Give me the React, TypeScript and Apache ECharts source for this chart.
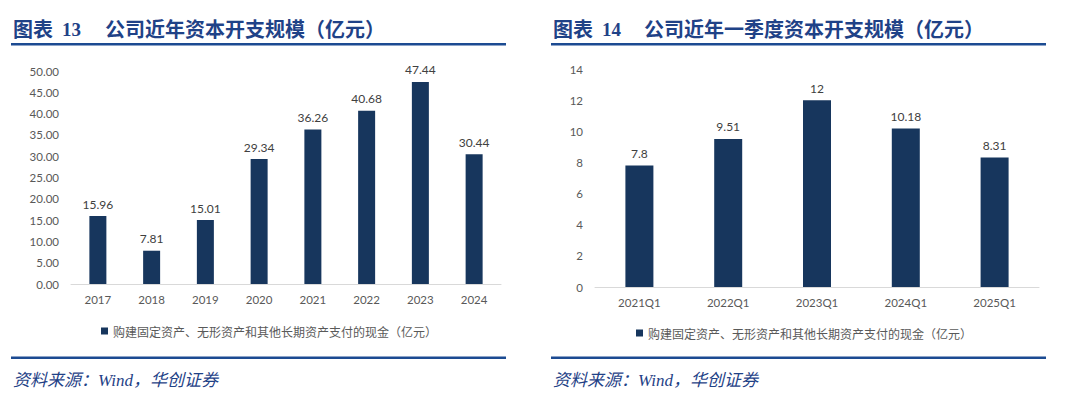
import React, { useEffect, useRef } from "react";
import * as echarts from "echarts";

const yearCats = ["2017", "2018", "2019", "2020", "2021", "2022", "2023", "2024"];
const yearVals = [15.96, 7.81, 15.01, 29.34, 36.26, 40.68, 47.44, 30.44];
const quarterCats = ["2021Q1", "2022Q1", "2023Q1", "2024Q1", "2025Q1"];
const quarterVals = [7.8, 9.51, 12, 10.18, 8.31];
const seriesName = "购建固定资产、无形资产和其他长期资产支付的现金（亿元）";
const leftTitleNo = "13";
const leftTitle = "公司近年资本开支规模（亿元）";
const rightTitleNo = "14";
const rightTitle = "公司近年一季度资本开支规模（亿元）";
const sourceText = "资料来源：Wind，华创证券";

const BAR = "#17365d";
const TITLE = "#1f4287";
const LINE = "#1c4b92";
const NUM_FONT = "Lato, 'Noto Sans', sans-serif";
const CJK = "'Noto Sans CJK SC', sans-serif";

export default function App() {
  const ref = useRef<HTMLDivElement>(null);
  useEffect(() => {
    document.body.style.margin = "0";
    const chart = echarts.init(ref.current!, null, { renderer: "svg" });
    const titleGroup = (x0: number, no: string, text: string, noX: number, textX: number) => [
      { type: "text", x: x0, y: 28, style: { text: "图表", font: `bold 20px ${CJK}`, fill: TITLE, verticalAlign: "middle" } },
      { type: "text", x: noX, y: 29, style: { text: no, font: `bold 19px 'Liberation Serif', serif`, fill: TITLE, verticalAlign: "middle" } },
      { type: "text", x: textX, y: 28, style: { text, font: `bold 20px ${CJK}`, fill: TITLE, verticalAlign: "middle" } },
    ];
    const axisCommon = {
      axisTick: { show: false },
      axisLine: { lineStyle: { color: "#d9d9d9", width: 1 } },
      axisLabel: { color: "#595959", fontSize: 11.5, fontFamily: NUM_FONT, margin: 9 },
    };
    chart.setOption({
      animation: false,
      backgroundColor: "#ffffff",
      grid: [
        { left: 71, right: 579, top: 71, bottom: 115 },
        { left: 595, right: 41, top: 69, bottom: 112 },
      ],
      xAxis: [
        { type: "category", gridIndex: 0, data: yearCats, ...axisCommon },
        { type: "category", gridIndex: 1, data: quarterCats, ...axisCommon },
      ],
      yAxis: [
        {
          type: "value", gridIndex: 0, min: 0, max: 50, interval: 5,
          splitLine: { show: false }, axisLine: { show: false }, axisTick: { show: false },
          axisLabel: { color: "#595959", fontSize: 11.5, fontFamily: NUM_FONT, margin: 12, formatter: (v: number) => v.toFixed(2) },
        },
        {
          type: "value", gridIndex: 1, min: 0, max: 14, interval: 2,
          splitLine: { show: false }, axisLine: { show: false }, axisTick: { show: false },
          axisLabel: { color: "#595959", fontSize: 11.5, fontFamily: NUM_FONT, margin: 12 },
        },
      ],
      legend: [
        {
          left: 96, top: 320, icon: "rect", itemWidth: 7, itemHeight: 7,
          data: [seriesName], selectedMode: false,
          textStyle: { color: "#595959", fontSize: 12, fontFamily: CJK },
        },
        {
          left: 631, top: 322, icon: "rect", itemWidth: 7, itemHeight: 7,
          data: [seriesName], selectedMode: false,
          textStyle: { color: "#595959", fontSize: 12, fontFamily: CJK },
        },
      ],
      series: [
        {
          name: seriesName, type: "bar", xAxisIndex: 0, yAxisIndex: 0, data: yearVals,
          barWidth: 17, itemStyle: { color: BAR },
          label: { show: true, position: "top", distance: 6, color: "#404040", fontSize: 12, fontFamily: NUM_FONT },
        },
        {
          name: seriesName, type: "bar", xAxisIndex: 1, yAxisIndex: 1, data: quarterVals,
          barWidth: 28, itemStyle: { color: BAR },
          label: { show: true, position: "top", distance: 6, color: "#404040", fontSize: 12, fontFamily: NUM_FONT },
        },
      ],
      graphic: [
        ...titleGroup(13, leftTitleNo, leftTitle, 62, 105),
        ...titleGroup(553, rightTitleNo, rightTitle, 602, 644),
        { type: "rect", shape: { x: 11, y: 43, width: 495, height: 2.5 }, style: { fill: LINE } },
        { type: "rect", shape: { x: 551, y: 43, width: 495, height: 2.5 }, style: { fill: LINE } },
        { type: "rect", shape: { x: 11, y: 356.5, width: 495, height: 2.5 }, style: { fill: LINE } },
        { type: "rect", shape: { x: 551, y: 356.5, width: 495, height: 2.5 }, style: { fill: LINE } },
        { type: "text", x: 13, y: 380, style: { text: sourceText, font: `italic 17px 'Liberation Serif', ${CJK}`, fill: TITLE, verticalAlign: "middle" } },
        { type: "text", x: 553, y: 380, style: { text: sourceText, font: `italic 17px 'Liberation Serif', ${CJK}`, fill: TITLE, verticalAlign: "middle" } },
      ],
    });
    return () => chart.dispose();
  }, []);
  return <div ref={ref} style={{ position: "fixed", left: 0, top: 0, width: 1080, height: 399 }} />;
}
